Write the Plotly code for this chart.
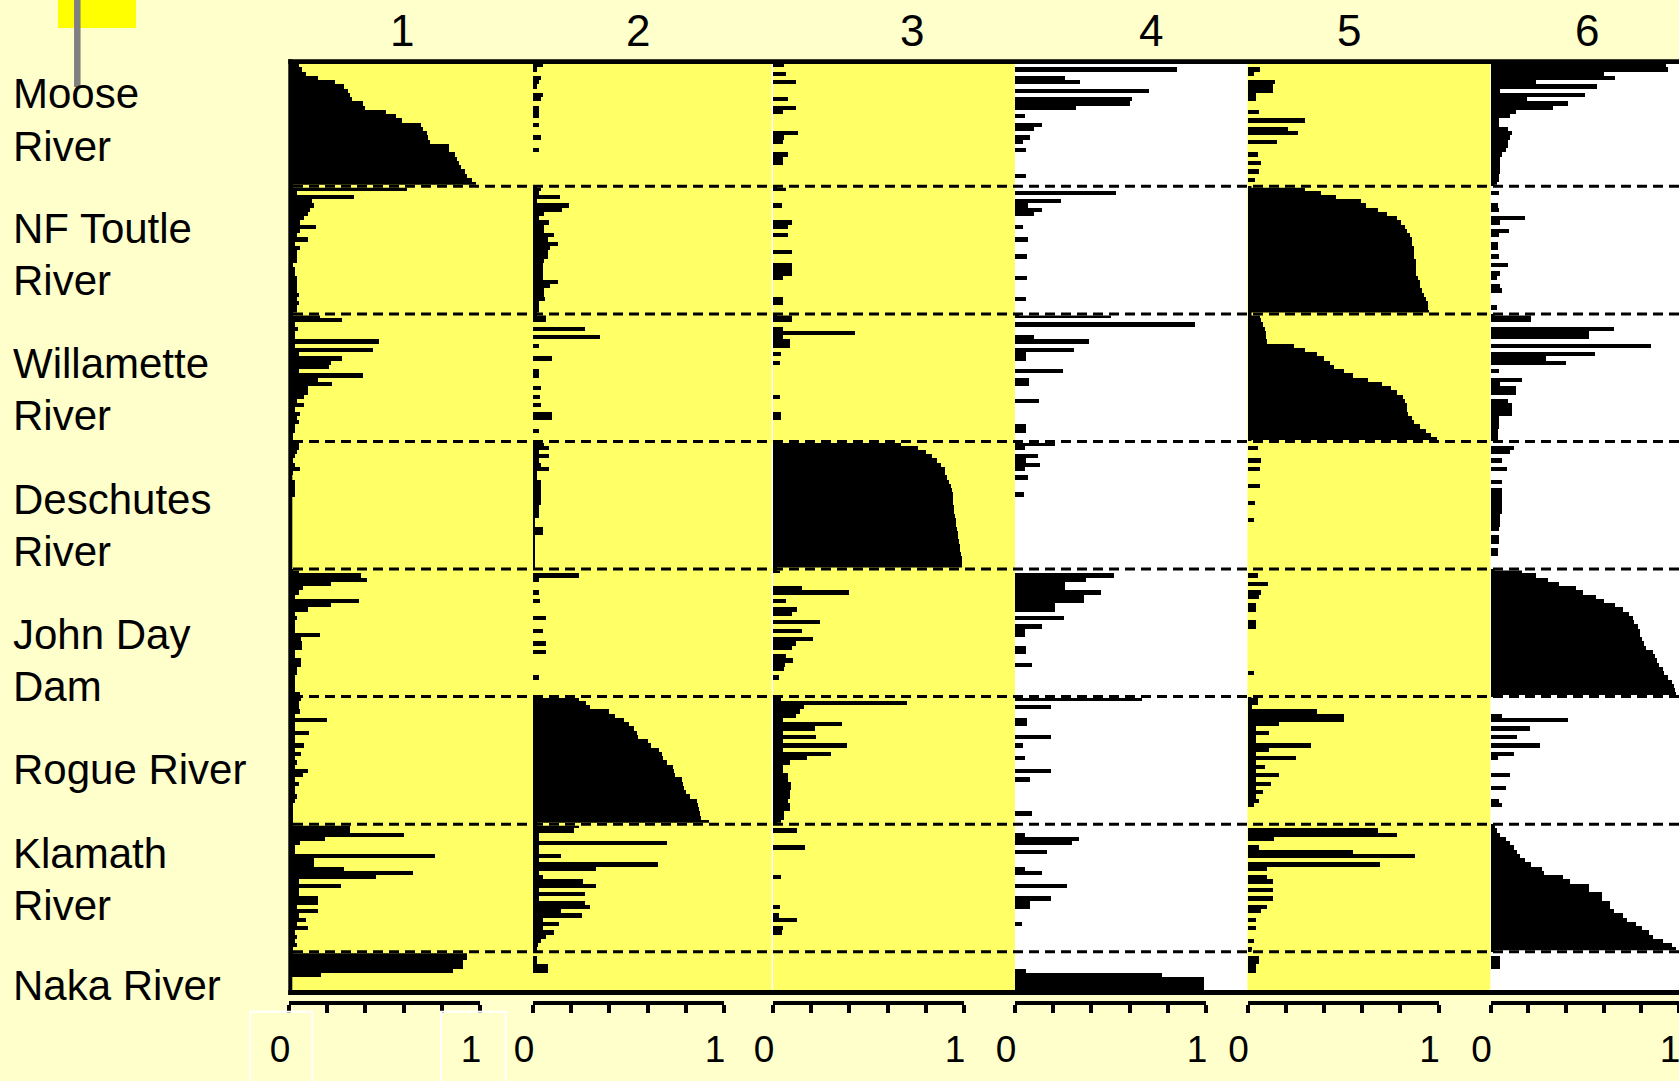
import plotly.graph_objects as go

# ---------------- data ----------------
clusters = ["1", "2", "3", "4", "5", "6"]
population_lines = [["Moose", "River"], ["NF Toutle", "River"], ["Willamette", "River"],
                    ["Deschutes", "River"], ["John Day", "Dam"], ["Rogue River"],
                    ["Klamath", "River"], ["Naka River"]]
tick_values = [0, 0.2, 0.4, 0.6, 0.8, 1.0]
tick_labels = ["0", "", "", "", "", "1"]

moose_k1 = [.05,.07,.09,.15,.24,.29,.31,.32,.33,.39,.40,.51,.56,.59,.69,.70,.72,.73,.74,.84,.84,.87,.88,.89,.90,.92,.93,.96,.98]
moose_k2 = [.05,.02,0,.04,.03,.02,0,.05,.04,0,.03,.03,.03,0,.03,0,0,.04,0,0,.03,0,0,0,0,0,0,0,0]
moose_k3 = [.06,0,.07,0,.12,0,0,0,.08,0,.12,.05,0,0,0,0,.13,.06,.05,0,0,.08,.05,.05,0,0,0,0,0]
moose_k4 = [0,.85,0,.26,.34,0,.70,0,.61,.60,.32,0,.05,0,.14,.10,0,.08,.04,0,.06,0,0,0,0,0,.06,0,0]
moose_k5 = [0,.065,.03,0,.14,.13,.13,.04,.04,0,0,.06,0,.30,0,.21,.26,0,.15,0,0,.05,0,.07,0,.06,0,.035,0]
moose_k6 = [.93,.94,.60,.66,.24,.56,.05,.50,.19,.41,.33,.13,.10,.04,.04,.09,.11,.10,.09,.09,.08,.06,.05,.05,.05,.05,.04,.04,.03]

nf_k1 = [.62,.04,.34,.12,.13,.11,.10,.08,.06,.14,.06,.04,.10,.03,.06,.04,.04,.04,.02,.03,.03,.04,.04,.04,.04,.05,.04,.05,.04,.04]
nf_k2 = [.04,.03,.14,.02,.19,.15,.06,.03,.085,.06,.06,.11,.08,.13,.09,.08,.08,.06,.05,.05,.05,.05,.13,.09,.06,.06,.065,.03,.03,.03]
nf_k3 = [.07,0,0,0,.045,0,0,0,.10,.08,0,.08,0,0,0,.10,0,0,.10,.10,.10,.05,0,0,0,0,.05,.05,0,0]
nf_k4 = [0,.53,0,.24,.07,.14,.10,0,0,.04,0,0,.07,0,0,0,.065,0,0,0,0,.065,0,0,0,0,.055,0,0,0]
nf_k5 = [.30,.38,.46,.59,.62,.68,.73,.78,.80,.82,.83,.85,.86,.86,.87,.87,.87,.88,.88,.88,.88,.89,.90,.90,.91,.92,.93,.94,.94,.95]
nf_k6 = [0,.04,0,0,.035,.04,0,.18,.05,0,.095,.04,0,.035,.035,0,.04,0,.09,0,.05,.03,0,.05,.06,0,0,0,.03,0]

will_k1 = [.16,.28,.03,.045,.03,.03,.47,.03,.44,.05,.28,.22,.21,.05,.39,.15,.225,.10,.10,.08,.04,.08,.03,.06,.04,.05,.03,.03,.02,.02]
will_k2 = [.07,.07,0,.27,0,.35,0,.03,0,0,.10,0,0,.03,.03,0,0,.04,0,.035,0,.04,0,.10,.10,0,0,.03,0,0]
will_k3 = [.10,.10,0,.05,.43,.05,.09,.09,0,.04,0,.035,0,0,0,0,0,0,0,.035,0,0,0,.04,.04,0,0,0,0,0]
will_k4 = [.50,0,.94,0,0,.10,.385,0,.31,.06,.06,0,0,.25,0,.075,.075,0,0,0,.125,0,0,0,0,0,.06,.06,0,0]
will_k5 = [.065,.07,.08,.09,.095,.095,.10,.24,.30,.36,.40,.43,.45,.50,.55,.63,.70,.75,.78,.81,.82,.83,.83,.84,.86,.87,.90,.93,.96,.99]
will_k6 = [.21,.21,0,.65,.52,.52,0,.85,0,.55,.29,.40,0,.04,0,.165,.05,.135,.135,0,.09,.11,.11,.11,.04,.04,.04,.035,.035,.035]

desch_k1 = [.05,.05,.04,.03,.02,.03,.06,.02,.01,.03,.03,.03,.03,.01,.01,.01,.01,.01,.01,.01,.01,.01,.01,.01,.01,.01,.01,.01,.01,.01]
desch_k2 = [.06,.085,.03,.085,.03,.04,.085,.02,.02,.04,.04,.04,.04,.04,.04,.03,.03,.03,.01,.01,.05,.05,.01,.01,.01,.01,.01,.01,.01,.01]
desch_k3 = [.67,.76,.80,.83,.86,.88,.90,.90,.91,.92,.93,.935,.94,.945,.945,.95,.95,.955,.96,.96,.965,.97,.97,.975,.98,.98,.985,.99,.99,.99]
desch_k4 = [.21,.05,0,.12,.06,.13,.05,0,.07,0,0,0,.045,0,0,0,0,0,0,0,0,0,0,0,0,0,0,0,0,0]
desch_k5 = [0,.05,0,0,.07,0,.065,0,0,0,.065,0,0,0,.035,0,0,0,.03,0,0,0,0,0,0,0,0,0,0,0]
desch_k6 = [0,.12,.10,0,.06,0,.085,0,0,.06,0,.06,.06,.06,.06,.06,.06,.05,.05,.05,.045,0,.04,.04,0,.035,.035,0,0,0]

jd_k1 = [.05,.375,.41,.22,.075,.05,.03,.365,.22,.10,.03,.04,.03,.03,.03,.16,.065,.07,.07,.03,.03,.065,.065,.04,.04,.03,.03,.03,.03,.06]
jd_k2 = [0,.24,.03,0,0,.03,0,.035,0,0,0,.07,0,0,.05,0,0,.07,0,.07,0,0,0,0,0,.03,0,0,0,0]
jd_k3 = [.035,0,0,0,.15,.40,0,.07,0,.125,.10,0,.245,0,.15,0,.21,.12,.10,0,.07,.105,.065,.06,0,.03,0,0,0,0]
jd_k4 = [0,.52,.37,.26,.26,.45,.36,.36,.21,.21,0,.255,0,.14,.05,.05,0,0,.06,.06,0,0,.09,0,0,0,0,0,0,0]
jd_k5 = [0,.05,0,.105,0,.07,.06,0,.04,.04,0,0,.04,.04,0,0,0,0,0,0,0,0,0,0,.03,0,0,0,0,0]
jd_k6 = [.165,.24,.30,.36,.45,.49,.555,.60,.66,.70,.73,.755,.76,.78,.79,.79,.80,.81,.82,.86,.87,.88,.89,.91,.92,.94,.96,.97,.975,.98]

rogue_k1 = [.065,.05,.05,.06,.03,.20,.03,.03,.105,.03,.03,.08,.03,.065,.03,.04,.03,.10,.075,.03,.05,.03,.03,.04,.03,.02,.02,.02,.02,.02]
rogue_k2 = [.24,.28,.30,.40,.43,.475,.50,.53,.545,.55,.60,.62,.66,.675,.68,.70,.735,.74,.745,.78,.785,.79,.80,.82,.86,.865,.87,.875,.88,.92]
rogue_k3 = [.04,.70,.16,.14,.12,.05,.36,.22,.05,.225,.05,.39,.05,.305,.18,.09,.05,.05,.08,.08,.095,.095,.09,.09,.08,.09,.09,.06,.06,.04]
rogue_k4 = [.665,0,.19,0,0,.065,.065,0,0,.19,0,.04,0,0,.05,0,0,.19,0,.08,0,0,0,0,0,0,0,.09,0,0]
rogue_k5 = [.05,.05,.02,.36,.50,.50,.16,.04,.11,.04,.04,.33,.11,.04,.25,.04,.09,.04,.16,.04,.12,.04,.08,.04,.06,.03,0,0,0,0]
rogue_k6 = [0,0,0,0,.06,.41,0,.205,0,.14,0,.26,0,.12,.035,0,0,0,.10,0,0,.08,0,0,.04,.06,0,0,0,0]

klam_k1 = [.32,.32,.60,.19,.06,.03,.03,.765,.13,.13,.29,.65,.455,.05,.27,.05,.05,.15,.15,.04,.15,.05,.09,.04,.10,.03,.04,.03,.04,.02]
klam_k2 = [.24,.215,.03,.03,.70,.03,.03,.145,.03,.655,.33,.03,.05,.26,.33,.03,.27,.03,.27,.30,.145,.255,.05,.135,.05,.11,.07,.04,.025,.02]
klam_k3 = [0,.125,0,0,0,.165,0,0,0,0,0,0,.04,0,0,0,0,0,0,.035,0,.03,.125,0,.05,.045,0,0,0,0]
klam_k4 = [0,0,.05,.335,.30,0,.165,0,0,0,.05,.14,0,0,.27,0,0,.19,.08,.08,0,0,0,.035,0,0,0,0,0,0]
klam_k5 = [0,.68,.78,.135,0,.06,.55,.875,0,.69,.10,0,.10,.13,0,.13,0,.13,0,.10,.07,0,.04,0,.04,0,0,.03,0,.02]
klam_k6 = [.02,.03,.05,.08,.10,.12,.14,.155,.18,.21,.27,.28,.38,.42,.52,.52,.59,.59,.63,.63,.65,.70,.72,.77,.80,.84,.86,.91,.96,.98]

naka_k1 = [.93,.93,.91,.91,.86,.17,0,0,0]
naka_k2 = [0,.02,.02,.08,.08,0,0,0,0]
naka_k3 = [0,0,0,0,0,0,0,0,0]
naka_k4 = [0,0,0,0,.06,.77,.99,.99,.99]
naka_k5 = [0,.06,.06,.04,.04,0,0,0,0]
naka_k6 = [0,.05,.05,.05,0,0,0,0,0]

pops = [
    [moose_k1, moose_k2, moose_k3, moose_k4, moose_k5, moose_k6],
    [nf_k1, nf_k2, nf_k3, nf_k4, nf_k5, nf_k6],
    [will_k1, will_k2, will_k3, will_k4, will_k5, will_k6],
    [desch_k1, desch_k2, desch_k3, desch_k4, desch_k5, desch_k6],
    [jd_k1, jd_k2, jd_k3, jd_k4, jd_k5, jd_k6],
    [rogue_k1, rogue_k2, rogue_k3, rogue_k4, rogue_k5, rogue_k6],
    [klam_k1, klam_k2, klam_k3, klam_k4, klam_k5, klam_k6],
    [naka_k1, naka_k2, naka_k3, naka_k4, naka_k5, naka_k6],
]

# ---------------- layout constants (pixels) ----------------
W, H = 1679, 1081
FONT = "Liberation Sans, Arial, sans-serif"
BG = "#FFFFCC"
YELLOW = "#FFFF66"
WHITE = "#FFFFFF"
col_start = [289, 533, 773, 1015, 1247.5, 1490.5]
col_end = col_start[1:] + [W]
col_bg = [YELLOW, YELLOW, YELLOW, WHITE, YELLOW, WHITE]
col_unit = [191.0, 191.0, 191.0, 191.0, 191.0, W - 1490.5]
PANEL_TOP, PANEL_BOTTOM = 63.0, 990.0
AXIS_Y = 1003.0
header_x = [402, 638, 912, 1150.5, 1349, 1587]
header_y = 31
label_x = 11
label_line_y = [[94, 146], [228, 280], [364, 416], [499, 551], [634, 686], [769], [853, 905], [985]]


def px(x):
    return x / W


def py(y):
    return 1 - y / H


counts = [len(p[0]) for p in pops]
N = sum(counts)
rows = list(range(N))

fig = go.Figure()
for k in range(6):
    xs = []
    for p in pops:
        xs += p[k]
    fig.add_trace(go.Bar(
        x=xs, y=rows, orientation="h",
        xaxis="x" if k == 0 else f"x{k + 1}", yaxis="y",
        marker=dict(color="black", line=dict(width=0)),
        width=1.0, showlegend=False, hoverinfo="skip", name=clusters[k],
    ))
for k in range(6):
    fig.add_trace(go.Scatter(x=[None], y=[None], xaxis=f"x{k + 7}", yaxis="y",
                             mode="markers", showlegend=False, hoverinfo="skip"))

layout = dict(
    width=W, height=H,
    margin=dict(l=0, r=0, t=0, b=0, pad=0, autoexpand=False),
    paper_bgcolor=BG, plot_bgcolor="rgba(0,0,0,0)",
    bargap=0, barmode="overlay", showlegend=False,
    font=dict(family=FONT, color="black"),
    yaxis=dict(domain=[py(PANEL_BOTTOM), py(PANEL_TOP)], range=[N - 0.5, -0.5],
               visible=False, fixedrange=True, anchor="x"),
)
for k in range(6):
    name = "xaxis" if k == 0 else f"xaxis{k + 1}"
    layout[name] = dict(domain=[px(col_start[k]), px(col_end[k])],
                        range=[0, (col_end[k] - col_start[k]) / col_unit[k]],
                        visible=False, fixedrange=True, anchor="y")
    end = min(col_start[k] + col_unit[k], W)
    layout[f"xaxis{k + 7}"] = dict(
        domain=[px(col_start[k]), px(end)], range=[0, 1],
        anchor="free", position=py(AXIS_Y), side="bottom",
        showline=True, linecolor="black", linewidth=4,
        ticks="outside", ticklen=8, tickwidth=4, tickcolor="black",
        tickmode="array", tickvals=tick_values, ticktext=tick_labels,
        tickfont=dict(size=37, color="black", family=FONT),
        ticklabelshift=-9, ticklabelstandoff=5, automargin=False,
        ticklabeloverflow="allow",
        showgrid=False, zeroline=False, fixedrange=True,
    )
fig.update_layout(**layout)

shapes = []
# panel backgrounds
for k in range(6):
    shapes.append(dict(type="rect", xref="paper", yref="paper", layer="below",
                       x0=px(col_start[k]), x1=px(col_end[k]),
                       y0=py(PANEL_BOTTOM), y1=py(PANEL_TOP),
                       fillcolor=col_bg[k], line=dict(width=0)))
shapes.append(dict(type="line", xref="paper", yref="paper", layer="below",
                   x0=px(772.3), x1=px(772.3), y0=py(PANEL_BOTTOM), y1=py(PANEL_TOP),
                   line=dict(color=WHITE, width=1.5)))
# population separators
acc = 0
for c in counts[:-1]:
    acc += c
    yb = acc - 0.5
    for k in range(6):
        shapes.append(dict(type="line", xref="paper", yref="y",
                           x0=px(col_start[k] + 4), x1=px(col_end[k]), y0=yb, y1=yb,
                           line=dict(color=col_bg[k], width=3)))
    shapes.append(dict(type="line", xref="paper", yref="y",
                       x0=px(293), x1=1, y0=yb, y1=yb,
                       line=dict(color="black", width=3, dash="10px,6px")))
# frame
shapes.append(dict(type="line", xref="paper", yref="paper", x0=px(288.3), x1=1,
                   y0=py(61.7), y1=py(61.7), line=dict(color="black", width=4.7)))
shapes.append(dict(type="line", xref="paper", yref="paper", x0=px(288.3), x1=1,
                   y0=py(992.5), y1=py(992.5), line=dict(color="black", width=5)))
shapes.append(dict(type="line", xref="paper", yref="paper", x0=px(290.3), x1=px(290.3),
                   y0=py(59.3), y1=py(995), line=dict(color="black", width=4)))
# top-left decoration
shapes.append(dict(type="rect", xref="paper", yref="paper", x0=px(58), x1=px(136),
                   y0=py(28), y1=py(-3), fillcolor="#FFFF00", line=dict(width=0)))
shapes.append(dict(type="line", xref="paper", yref="paper", x0=px(77.3), x1=px(77.3),
                   y0=py(-3), y1=py(87), line=dict(color="#808080", width=6.5)))
# selection boxes around first axis labels
for x0, x1 in [(250, 312.4), (441, 505.6)]:
    shapes.append(dict(type="rect", xref="paper", yref="paper", x0=px(x0), x1=px(x1),
                       y0=py(1011.7), y1=py(1090), line=dict(color=WHITE, width=2)))
fig.update_layout(shapes=shapes)

annotations = []
for k in range(6):
    annotations.append(dict(text=clusters[k], xref="paper", yref="paper",
                            x=px(header_x[k]), y=py(header_y), xanchor="center", yanchor="middle",
                            showarrow=False, font=dict(size=44, color="black", family=FONT)))
for lines, ys in zip(population_lines, label_line_y):
    for t, yy in zip(lines, ys):
        annotations.append(dict(text=t, xref="paper", yref="paper", x=px(label_x), y=py(yy),
                                xanchor="left", yanchor="middle", showarrow=False,
                                font=dict(size=42, color="black", family=FONT)))
fig.update_layout(annotations=annotations)

fig.write_html(
    "out.html",
    config={"displayModeBar": False},
    post_script="document.body.style.margin='0';document.body.style.padding='0';"
                "document.body.style.overflow='hidden';",
)
